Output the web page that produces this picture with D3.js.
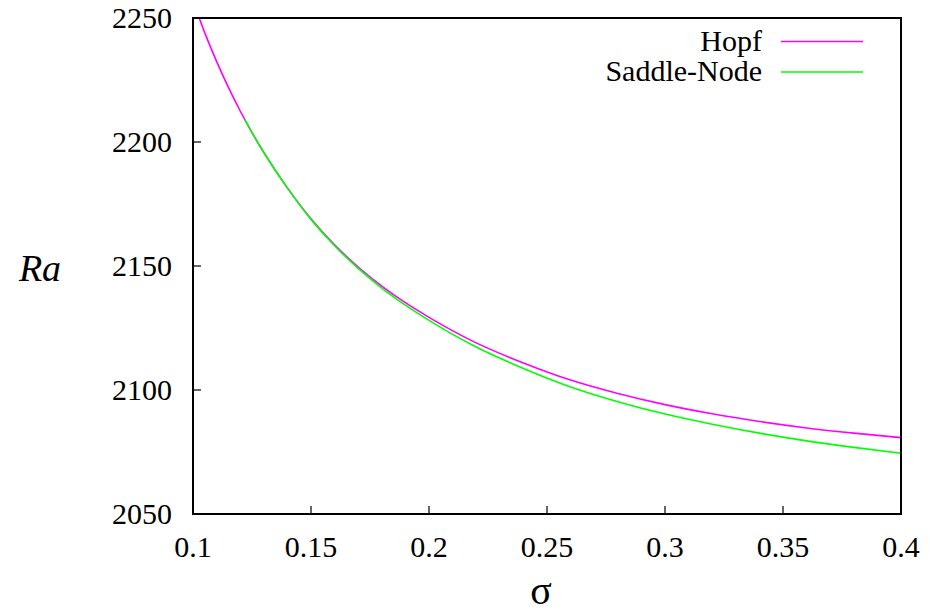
<!DOCTYPE html>
<html>
<head>
<meta charset="utf-8">
<script src="https://cdn.jsdelivr.net/npm/d3@7"></script>
<style>
  html, body { margin: 0; padding: 0; background: #fff; }
  svg { display: block; }
</style>
</head>
<body>
<svg id="chart" width="930" height="613"></svg>
<script>
// Hopf bifurcation curve: critical Rayleigh number vs sigma
const hopfSigma = [0.10, 0.105, 0.11, 0.115, 0.12, 0.125, 0.13, 0.14, 0.15, 0.16, 0.17, 0.18, 0.19, 0.20, 0.22, 0.24, 0.26, 0.28, 0.30, 0.32, 0.34, 0.36, 0.38, 0.40];
const hopfRa    = [2257, 2244, 2232.5, 2222, 2212.5, 2203.8, 2195.8, 2181.5, 2169, 2158.5, 2149.6, 2141.9, 2135.2, 2129.3, 2119.0, 2110.9, 2104.0, 2098.6, 2094.1, 2090.4, 2087.3, 2084.7, 2082.6, 2080.8];

// Saddle-node bifurcation curve
const snSigma = [0.122, 0.125, 0.13, 0.14, 0.15, 0.16, 0.17, 0.18, 0.19, 0.20, 0.22, 0.24, 0.26, 0.28, 0.30, 0.32, 0.34, 0.36, 0.38, 0.40];
const snRa    = [2209.0, 2203.8, 2195.75, 2181.4, 2168.8, 2158.15, 2149.05, 2141.1, 2134.2, 2128.1, 2117.35, 2108.7, 2101.25, 2095.3, 2090.3, 2086.2, 2082.6, 2079.5, 2076.85, 2074.5];

const xTicks = [0.1, 0.15, 0.2, 0.25, 0.3, 0.35, 0.4];
const yTicks = [2050, 2100, 2150, 2200, 2250];

const seriesNames  = ["Hopf", "Saddle-Node"];
const seriesColors = ["#ff00ff", "#00ff00"];

const FONT = "'Liberation Serif', Tinos, 'DejaVu Serif', serif";

const svg = d3.select("#chart").attr("font-family", FONT);
const plotL = 193, plotR = 901, plotT = 18, plotB = 514;

const x = d3.scaleLinear().domain([0.1, 0.4]).range([plotL, plotR]);
const y = d3.scaleLinear().domain([2050, 2250]).range([plotB, plotT]);

svg.append("defs").append("clipPath").attr("id", "plotClip")
  .append("rect").attr("x", plotL).attr("y", plotT)
  .attr("width", plotR - plotL).attr("height", plotB - plotT);

// tick marks (inward) and labels
const fs = 30;
const gx = svg.append("g");
xTicks.forEach(t => {
  gx.append("line").attr("x1", x(t)).attr("x2", x(t))
    .attr("y1", plotB).attr("y2", plotB - 8)
    .attr("stroke", "#333").attr("stroke-width", 1.5);
  gx.append("text").attr("x", x(t)).attr("y", plotB + 43)
    .attr("text-anchor", "middle").attr("font-size", fs)
    .attr("font-family", FONT).attr("fill", "#000")
    .text(d3.format("")(t));
});
const gy = svg.append("g");
yTicks.forEach(t => {
  gy.append("line").attr("x1", plotL).attr("x2", plotL + 8)
    .attr("y1", y(t)).attr("y2", y(t))
    .attr("stroke", "#333").attr("stroke-width", 1.5);
  gy.append("text").attr("x", plotL - 21).attr("y", y(t) + 10)
    .attr("text-anchor", "end").attr("font-size", fs)
    .attr("font-family", FONT).attr("fill", "#000")
    .text(t);
});

// curves
const line = d3.line().x(d => x(d[0])).y(d => y(d[1])).curve(d3.curveMonotoneX);
const series = [
  d3.zip(hopfSigma, hopfRa),
  d3.zip(snSigma, snRa)
];
const gc = svg.append("g").attr("clip-path", "url(#plotClip)");
series.forEach((s, i) => {
  gc.append("path").datum(s).attr("d", line)
    .attr("fill", "none").attr("stroke", seriesColors[i]).attr("stroke-width", 1.6);
});

// frame
svg.append("rect").attr("x", plotL).attr("y", plotT)
  .attr("width", plotR - plotL).attr("height", plotB - plotT)
  .attr("fill", "none").attr("stroke", "#000").attr("stroke-width", 2);

// legend
seriesNames.forEach((name, i) => {
  const ly = 41.5 + i * 30.5;
  svg.append("text").attr("x", 762).attr("y", ly + 9)
    .attr("text-anchor", "end").attr("font-size", fs)
    .attr("font-family", FONT).attr("fill", "#000").text(name);
  svg.append("line").attr("x1", 781).attr("x2", 863)
    .attr("y1", ly).attr("y2", ly)
    .attr("stroke", seriesColors[i]).attr("stroke-width", 1.6);
});

// axis titles
svg.append("text").attr("x", 40).attr("y", 281)
  .attr("text-anchor", "middle").attr("font-size", 38)
  .attr("font-family", FONT).attr("fill", "#000")
  .attr("font-style", "italic").text("Ra");
svg.append("text").attr("x", 541).attr("y", 604)
  .attr("text-anchor", "middle").attr("font-size", 40)
  .attr("font-family", FONT).attr("fill", "#000").text("σ");
</script>
</body>
</html>
